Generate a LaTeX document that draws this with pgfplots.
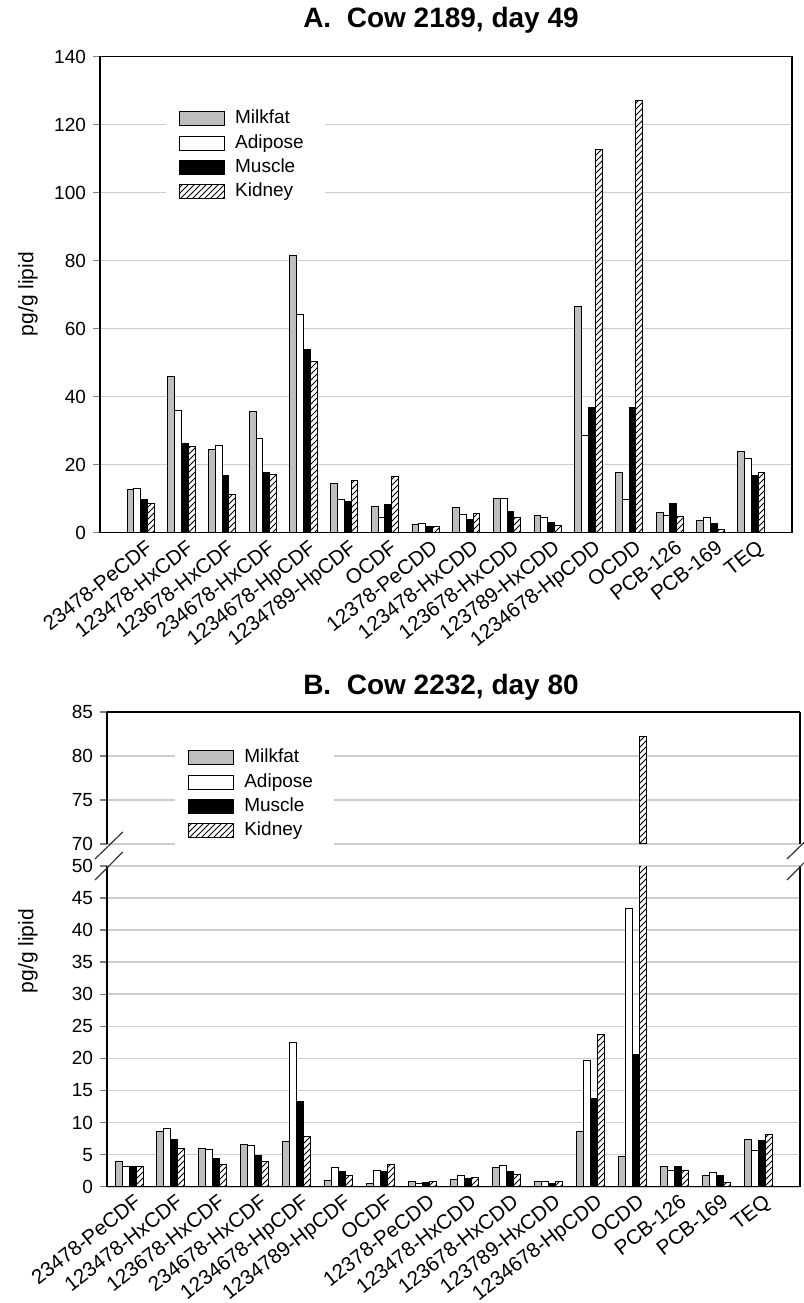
\documentclass[border=0pt]{standalone}
\usepackage{fontspec}
\setmainfont{Liberation Sans}
\usepackage{pgfplots}
\usepackage{pgfplotstable}
\pgfplotsset{compat=1.18}
\usetikzlibrary{patterns}

\definecolor{milk}{RGB}{190,190,190}
\definecolor{gridgray}{RGB}{205,205,205}

% pg/g lipid, columns: milkfat adipose muscle kidney
\pgfplotstableread{
x  milk  adip  musc  kid
0  12.6  13.0   9.7   8.6
1  45.9  36.0  26.1  25.4
2  24.4  25.5  16.8  11.1
3  35.6  27.6  17.6  17.0
4  81.5  64.0  53.9  50.4
5  14.3   9.7   9.0  15.4
6   7.7   4.4   8.2  16.5
7   2.3   2.5   1.9   1.8
8   7.4   5.4   3.8   5.6
9  10.0  10.1   6.1   4.3
10  4.9   4.3   3.0   2.1
11 66.6  28.5  36.8 112.5
12 17.5   9.7  36.8 127.1
13  5.8   4.9   8.5   4.6
14  3.6   4.5   2.5   1.0
15 23.9  21.7  16.8  17.6
}\cowA

\pgfplotstableread{
x  milk  adip  musc  kid
0   3.9   3.2   3.2   3.2
1   8.6   9.0   7.4   6.0
2   6.0   5.8   4.4   3.5
3   6.6   6.4   4.9   4.0
4   7.0  22.5  13.3   7.8
5   0.9   3.0   2.3   1.8
6   0.5   2.5   2.4   3.4
7   0.8   0.5   0.6   0.8
8   1.2   1.7   1.3   1.5
9   3.0   3.3   2.3   1.9
10  0.8   0.8   0.5   0.8
11  8.6  19.7  13.7  23.8
12  4.7  43.3  20.6  82.2
13  3.1   2.6   3.2   2.6
14  1.8   2.2   1.8   0.6
15  7.4   5.7   7.2   8.1
}\cowB

\pgfplotsset{
  tissue/.style={
    scale only axis,
    ybar=0pt,
    axis line style={line width=0.75pt,-},
    ytick pos=left, tick align=outside, major tick length=3.5pt,
    ytick style={line width=0.75pt},
    xtick style={draw=none},
    ymajorgrids, major grid style={gridgray, line width=0.8pt},
    tick label style={font=\fontsize{9.5}{11}\selectfont},
    /pgf/number format/assume math mode=true,
    xtick={0,...,15},
    xticklabels={23478-PeCDF,123478-HxCDF,123678-HxCDF,234678-HxCDF,
      1234678-HpCDF,1234789-HpCDF,OCDF,12378-PeCDD,123478-HxCDD,
      123678-HxCDD,123789-HxCDD,1234678-HpCDD,OCDD,PCB-126,PCB-169,TEQ},
    xticklabel style={rotate=38, anchor=north east, inner sep=1pt,
      xshift=3pt, font=\fontsize{10.3}{12}\selectfont},
    legend cell align=left,
  },
  barM/.style={draw=black, line width=0.5pt, fill=milk},
  barA/.style={draw=black, line width=0.5pt, fill=white},
  barU/.style={draw=black, line width=0.5pt, fill=black},
  barK/.style={draw=black, line width=0.5pt, fill=white, postaction={pattern=north east lines}},
}

\begin{document}
\begin{tikzpicture}
\useasboundingbox (0,0) rectangle (402pt,651.5pt);

% ---- A. Cow 2189, day 49
\node[font=\bfseries\fontsize{14}{16}\selectfont] at (220.5pt,641.5pt) {A.\ \ Cow 2189, day 49};
\node[rotate=90, font=\fontsize{10.5}{12}\selectfont] at (14pt,504.5pt) {pg/g lipid};
\begin{axis}[tissue,
  at={(50pt,385.25pt)}, anchor=south west,
  width=346pt, height=238pt, bar width=3.4pt,
  xmin=-1, xmax=16, ymin=0, ymax=140, ytick={0,20,...,140},
  legend image code/.code={\draw[#1] (0pt,-3.5pt) rectangle (22.5pt,3.5pt);},
  legend style={at={(axis description cs:0.095,0.91)}, anchor=north west,
    draw=none, fill=white, font=\fontsize{9.5}{11}\selectfont,
    inner xsep=6.5pt, inner ysep=4pt, row sep=1.2pt, column sep=1pt,
    nodes={inner xsep=4pt, inner ysep=1pt, text height=7pt, text depth=2pt}},
]
\addplot[barM] table[x=x,y=milk]{\cowA};
\addplot[barA] table[x=x,y=adip]{\cowA};
\addplot[barU] table[x=x,y=musc]{\cowA};
\addplot[barK] table[x=x,y=kid]{\cowA};
\legend{Milkfat,Adipose,Muscle,Kidney}
\end{axis}

% ---- B. Cow 2232, day 80
\node[font=\bfseries\fontsize{14}{16}\selectfont] at (220.5pt,308pt) {B.\ \ Cow 2232, day 80};
\node[rotate=90, font=\fontsize{10.5}{12}\selectfont] at (14pt,176pt) {pg/g lipid};
% upper part 70-85 (only the OCDD kidney bar reaches it)
\begin{axis}[tissue,
  at={(53.5pt,229.5pt)}, anchor=south west,
  width=346.5pt, height=66pt, bar width=3.5pt,
  axis x line*=top, xtick=\empty,
  xmin=-0.525, xmax=16, ymin=70, ymax=85, ytick={70,75,80,85},
  legend image code/.code={\draw[#1] (0pt,-3.5pt) rectangle (22.5pt,3.5pt);},
  legend style={at={(axis description cs:0.098,0.80)}, anchor=north west,
    draw=none, fill=white, font=\fontsize{9.5}{11}\selectfont,
    inner xsep=6.5pt, inner ysep=4pt, row sep=1.2pt, column sep=1pt,
    nodes={inner xsep=4pt, inner ysep=1pt, text height=7pt, text depth=2pt}},
]
\addplot[barM, opacity=0, legend image post style={opacity=1}] table[x=x,y=milk]{\cowB};
\addplot[barA, opacity=0, legend image post style={opacity=1}] table[x=x,y=adip]{\cowB};
\addplot[barU, opacity=0, legend image post style={opacity=1}] table[x=x,y=musc]{\cowB};
\addplot[barK, restrict y to domain=70:200] table[x=x,y=kid]{\cowB};
\legend{Milkfat,Adipose,Muscle,Kidney}
\end{axis}
% lower part 0-50
\begin{axis}[tissue,
  at={(53.5pt,58.15pt)}, anchor=south west,
  width=346.5pt, height=160.35pt, bar width=3.5pt,
  axis x line*=bottom,
  xmin=-0.525, xmax=16, ymin=0, ymax=50, ytick={0,5,...,50},
]
\addplot[barM] table[x=x,y=milk]{\cowB};
\addplot[barA] table[x=x,y=adip]{\cowB};
\addplot[barU] table[x=x,y=musc]{\cowB};
\addplot[barK] table[x=x,y=kid]{\cowB};
\end{axis}
% axis break marks
\begin{scope}[line width=0.6pt, black!80]
\draw (47.5pt,222pt) -- (61.4pt,235.5pt);
\draw (47.5pt,211.5pt) -- (61.4pt,225.5pt);
\draw (393.5pt,222pt) -- (407.4pt,235.5pt);
\draw (393.5pt,211.5pt) -- (407.4pt,225.5pt);
\end{scope}
\end{tikzpicture}
\end{document}
